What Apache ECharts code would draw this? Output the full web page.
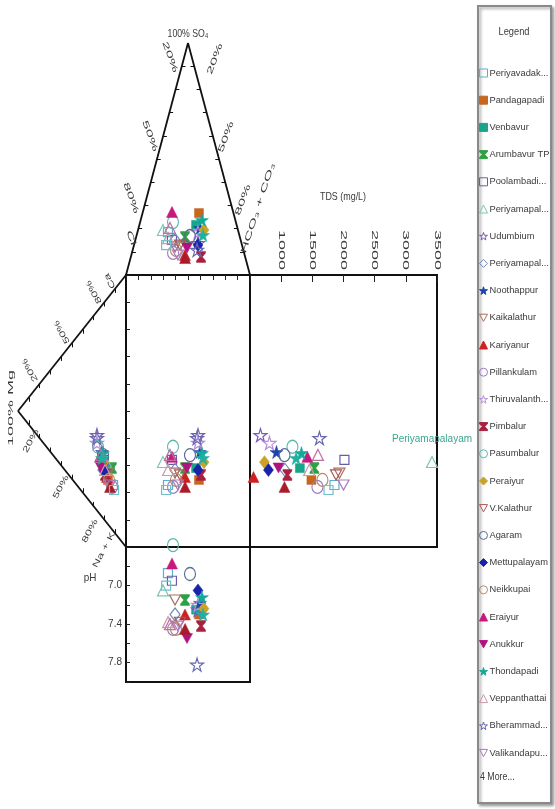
<!DOCTYPE html>
<html>
<head>
<meta charset="utf-8">
<script src="https://cdn.jsdelivr.net/npm/echarts@6/dist/echarts.min.js"></script>
<style>
  html, body { margin: 0; padding: 0; background: #fff; }
  #chart { width: 555px; height: 809px; }
</style>
</head>
<body>
<div id="chart"></div>
<script>
// ---- Sample sites ----
const sampleNames = ['Periyavadakarai', 'Pandagapadi', 'Venbavur', 'Arumbavur TP', 'Poolambadi', 'Periyamapalayam',
  'Udumbium', 'Periyammapalayam', 'Noothappur', 'Kaikalathur', 'Kariyanur', 'Pillankulam', 'Thiruvalanthurai',
  'Pimbalur', 'Pasumbalur', 'Peraiyur', 'V.Kalathur', 'Agaram', 'Mettupalayam', 'Neikkupai', 'Eraiyur', 'Anukkur',
  'Thondapadi', 'Veppanthattai', 'Bherammadevi', 'Valikandapuram', 'Site 27', 'Site 28', 'Site 29', 'Site 30'];
const legendLabels = ['Periyavadak...', 'Pandagapadi', 'Venbavur', 'Arumbavur TP', 'Poolambadi...', 'Periyamapal...',
  'Udumbium', 'Periyamapal...', 'Noothappur', 'Kaikalathur', 'Kariyanur', 'Pillankulam', 'Thiruvalanth...',
  'Pimbalur', 'Pasumbalur', 'Peraiyur', 'V.Kalathur', 'Agaram', 'Mettupalayam', 'Neikkupai', 'Eraiyur', 'Anukkur',
  'Thondapadi', 'Veppanthattai', 'Bherammad...', 'Valikandapu...'];

// ---- Anions (% meq) ----
const hco3 = [24.6, 45.5, 45.7, 39.4, 29.5, 20.1, 51.2, 32.0, 49.5, 33.5, 43.3, 33.2, 48.8, 56.6, 26.5, 53.2, 37.1, 43.2, 51.6, 34.9, 23.5, 43.4, 49.4, 26.0, 51.9, 37.6, 44.0, 25.9, 25.3, 53.5];
const so4  = [18.5, 26.7, 21.6, 16.4, 15.1, 19.4, 13.8, 15.1, 20.3, 12.1, 8.6, 9.5, 18.5, 7.8, 22.8, 19.4, 12.9, 16.8, 12.9, 10.8, 27.2, 11.6, 23.7, 15.9, 10.8, 8.6, 7.3, 12.9, 20.3, 17.2];
const cl   = [56.9, 27.8, 32.7, 44.2, 55.4, 60.5, 35.0, 52.9, 30.2, 54.4, 48.1, 57.3, 32.7, 35.6, 50.7, 27.4, 50.0, 40.0, 35.5, 54.3, 49.3, 45.0, 26.9, 58.1, 37.3, 53.8, 48.7, 61.2, 54.4, 29.3];

// ---- Cations (% meq) ----
const ca  = [16.8, 16.3, 21.6, 22.5, 21.8, 22.0, 27.7, 17.7, 23.8, 18.8, 16.9, 15.6, 24.8, 16.8, 23.9, 21.0, 16.8, 23.1, 18.1, 16.8, 21.1, 17.5, 23.9, 18.6, 26.6, 15.4, 14.7, 15.4, 22.3, 21.6];
const mg  = [12.0, 16.7, 14.8, 13.0, 20.4, 18.5, 26.9, 21.3, 22.2, 16.7, 17.6, 13.0, 26.9, 19.4, 25.9, 20.4, 19.4, 21.3, 20.4, 15.7, 24.1, 23.1, 21.3, 19.4, 26.9, 14.8, 14.8, 11.1, 23.1, 22.2];
const nak = [71.2, 67.0, 63.6, 64.5, 57.8, 59.5, 45.4, 61.0, 54.0, 64.5, 65.5, 71.4, 48.3, 63.8, 50.2, 58.6, 63.8, 55.6, 61.5, 67.5, 54.8, 59.4, 54.8, 62.0, 46.5, 69.8, 70.5, 73.5, 54.6, 56.2];

// ---- TDS (mg/L) and pH ----
const tds = [1855, 1485, 1300, 1533, 2015, 3420, 668, 1060, 925, 1935, 556, 1582, 812, 1100, 1181, 732, 1880, 1053, 796, 1662, 1420, 957, 1325, 1450, 1614, 2000, 1053, 1760, 1590, 1240];
const ph  = [6.87, 7.30, 7.25, 7.15, 6.95, 7.05, 7.25, 7.30, 7.18, 7.15, 7.30, 7.45, 7.20, 7.42, 6.58, 7.24, 7.38, 6.88, 7.05, 7.45, 6.77, 7.55, 7.12, 7.38, 7.82, 7.42, 7.45, 7.00, 7.40, 7.30];

// ---- Axis tick labels ----
const tdsTickLabels = [1000, 1500, 2000, 2500, 3000, 3500];
const phTickLabels = ['7.0', '7.4', '7.8'];
const triangleTickLabels = ['20%', '50%', '80%'];

// ---- Marker styles ----
const markerShape = ['sq', 'sq', 'sq', 'hour', 'sq', 'tri', 'star', 'dia', 'star', 'dtri', 'tri', 'circ', 'star',
  'hour', 'circ', 'dia', 'dtri', 'circ', 'dia', 'circ', 'tri', 'dtri', 'star', 'tri', 'star', 'dtri', 'tri', 'sq', 'tri', 'star'];
const markerFilled = [0, 1, 1, 1, 0, 0, 0, 0, 1, 0, 1, 0, 0, 1, 0, 1, 0, 0, 1, 0, 1, 1, 1, 0, 0, 0, 1, 0, 0, 1];
const markerColor = ['#5aaed6', '#c6661f', '#18a58a', '#2ea043', '#6b5cab', '#7cc6b4', '#7b5cb8', '#6f86b8', '#1e44aa',
  '#a8705e', '#cf2020', '#a07cc4', '#b78cdc', '#a8203f', '#5db8ac', '#cba226', '#aa5656', '#5a6b92', '#1a22aa', '#b48c6c',
  '#c8187c', '#b01282', '#14a898', '#c99aac', '#6768b0', '#a77cbc', '#a81c2a', '#70c0c8', '#c070a0', '#20b0a0'];

const FONT = '"Liberation Sans", Arial, sans-serif';
const INK = '#3a3a3a';
const STAR = 'path://M50,0 L61,35 L98,35 L68,57 L79,91 L50,70 L21,91 L32,57 L2,35 L39,35 Z';
const HOURGLASS = 'path://M0,0 L10,0 L10,1.5 L6.5,5 L10,8.5 L10,10 L0,10 L0,8.5 L3.5,5 L0,1.5 Z';
const DOWN_TRIANGLE = 'path://M0,0 L10,0 L5,9 Z';

function symbolOf(i) {
  switch (markerShape[i]) {
    case 'sq': return { symbol: 'rect', symbolSize: 9 };
    case 'tri': return { symbol: 'triangle', symbolSize: 11 };
    case 'dtri': return { symbol: DOWN_TRIANGLE, symbolSize: [11, 10] };
    case 'dia': return { symbol: 'diamond', symbolSize: [10, 13] };
    case 'circ': return { symbol: 'circle', symbolSize: [11, 13] };
    case 'star': return { symbol: STAR, symbolSize: 13 };
    default: return { symbol: HOURGLASS, symbolSize: [9, 11] };
  }
}
function styleOf(i) {
  const c = markerColor[i];
  return markerFilled[i]
    ? { color: c, borderColor: c, borderWidth: 0.5, opacity: 1 }
    : { color: 'rgba(255,255,255,0)', borderColor: c, borderWidth: 1.2, opacity: 1 };
}

// Diagram coordinates derived from the ion balance
const anionSum = i => hco3[i] + so4[i] + cl[i];
const cationSum = i => ca[i] + mg[i] + nak[i];
const anionX = i => (hco3[i] + so4[i] / 2) / anionSum(i) * 100;  // 0 = Cl, 100 = HCO3
const so4Pct = i => so4[i] / anionSum(i) * 100;
const cationY = i => (nak[i] + mg[i] / 2) / cationSum(i) * 100;  // 0 = Ca, 100 = Na+K
const mgPct = i => mg[i] / cationSum(i) * 100;

const panelPoint = [
  i => [anionX(i), so4Pct(i)],   // anion triangle
  i => [mgPct(i), cationY(i)],   // cation triangle
  i => [anionX(i), cationY(i)],  // central field
  i => [tds[i], cationY(i)],     // TDS field
  i => [anionX(i), ph[i]]        // pH field
];

const grids = [
  { left: 126, top: 43, width: 124, height: 232 },
  { left: 18, top: 275, width: 108, height: 272 },
  { left: 126, top: 275, width: 124, height: 272, show: true, borderColor: '#111', borderWidth: 2, backgroundColor: 'transparent' },
  { left: 250, top: 275, width: 187, height: 272, show: true, borderColor: '#111', borderWidth: 2, backgroundColor: 'transparent' },
  { left: 126, top: 547, width: 124, height: 135, show: true, borderColor: '#111', borderWidth: 2, backgroundColor: 'transparent' }
];

const hidden = (g, extra) => Object.assign({ gridIndex: g, type: 'value', min: 0, max: 100, show: false }, extra || {});
const tickOnly = (len) => ({
  axisLine: { show: false },
  axisTick: { show: true, inside: true, length: len, lineStyle: { color: '#222', width: 1 } },
  axisLabel: { show: false },
  splitLine: { show: false }
});

const xAxes = [
  hidden(0),
  hidden(1, { inverse: true }),
  Object.assign({ gridIndex: 2, type: 'value', min: 0, max: 100, interval: 10, position: 'top' }, tickOnly(5)),
  Object.assign({ gridIndex: 3, type: 'value', min: 500, max: 3500, interval: 500, position: 'top' }, tickOnly(7)),
  hidden(4)
];
const yAxes = [
  hidden(0),
  hidden(1, { inverse: true }),
  Object.assign({ gridIndex: 2, type: 'value', min: 0, max: 100, interval: 10, inverse: true }, tickOnly(4)),
  hidden(3, { inverse: true }),
  Object.assign({ gridIndex: 4, type: 'value', min: 6.6, max: 8.0, interval: 0.2, inverse: true }, tickOnly(4), {
    axisLabel: {
      show: true, margin: 4, fontSize: 10, color: INK, fontFamily: FONT,
      formatter: v => { const s = (Math.round(v * 10) / 10).toFixed(1); return phTickLabels.includes(s) ? s : ''; }
    }
  })
];

// Triangle outlines and their 10 % ticks
const frame = (idx, segs, width) => ({
  type: 'lines', coordinateSystem: 'cartesian2d', xAxisIndex: idx, yAxisIndex: idx,
  polyline: false, silent: true, z: 1, animation: false,
  lineStyle: { color: '#111', width: width, opacity: 1, curveness: 0 },
  data: segs.map(s => ({ coords: s }))
});
const topEdges = [[[0, 0], [50, 100]], [[50, 100], [100, 0]]];
const leftEdges = [[[0, 0], [100, 50]], [[100, 50], [0, 100]]];
const topTicks = [], leftTicks = [];
for (let k = 1; k <= 9; k++) {
  const s = k * 10;
  topTicks.push([[s / 2, s], [s / 2 + 3, s]]);
  topTicks.push([[100 - s / 2, s], [97 - s / 2, s]]);
  leftTicks.push([[s, s / 2], [s, s / 2 + 1.6]]);
  leftTicks.push([[s, 100 - s / 2], [s, 98.4 - s / 2]]);
}

const series = [
  frame(0, topEdges, 1.8), frame(0, topTicks, 1),
  frame(1, leftEdges, 1.8), frame(1, leftTicks, 1)
];

sampleNames.forEach((name, i) => {
  const sym = symbolOf(i);
  panelPoint.forEach((fn, p) => {
    const s = Object.assign({
      type: 'scatter', name: name, xAxisIndex: p, yAxisIndex: p, clip: false, z: 3,
      animation: false, itemStyle: styleOf(i), emphasis: { disabled: true },
      data: [fn(i)]
    }, sym);
    if (p === 3 && name === 'Periyamapalayam') {
      s.label = { show: true, position: 'top', distance: 12, formatter: '{a}', color: '#3aa58e', fontSize: 10, fontFamily: FONT };
    }
    series.push(s);
  });
});

const chart = echarts.init(document.getElementById('chart'));
chart.setOption({
  animation: false,
  backgroundColor: '#fff',
  grid: grids,
  xAxis: xAxes,
  yAxis: yAxes,
  legend: {
    data: legendLabels.map((_, i) => sampleNames[i]),
    orient: 'vertical', left: 479, top: 67, padding: 0,
    itemWidth: 8, itemHeight: 8, itemGap: 15.2,
    selectedMode: false,
    itemStyle: { borderWidth: 1 },
    formatter: n => legendLabels[sampleNames.indexOf(n)],
    textStyle: { fontSize: 9.3, lineHeight: 12, color: INK, fontFamily: FONT, padding: [0, 0, 0, -3] }
  },
  series: series
});

// Text annotations
const deg = d => d * Math.PI / 180;
function label(text, x, y, rot, size, sx, sy, align) {
  return {
    type: 'text', x: x, y: y, rotation: deg(rot || 0), scaleX: sx || 1, scaleY: sy || 1, silent: true, z: 5,
    style: { text: text, fill: INK, font: (size || 10) + 'px ' + FONT, align: align || 'center', verticalAlign: 'middle' }
  };
}

const graphics = [
  // legend frame
  { type: 'rect', shape: { x: 478, y: 6, width: 73, height: 797 }, z: -1, silent: true,
    style: { fill: '#fff', stroke: '#8a8a8a', lineWidth: 2, shadowBlur: 3, shadowOffsetX: 2, shadowOffsetY: 2, shadowColor: 'rgba(0,0,0,0.35)' } },
  label('Legend', 514, 32, 0, 10.5, 0.88, 1.05),
  label('4 More...', 480, 777, 0, 10, 0.88, 1.05, 'left'),

  // anion triangle
  label('100% SO\u2084', 188, 34, 0, 10.5, 0.83, 1.05),
  label(triangleTickLabels[0], 170, 57, -70, 9, 1.8, 0.9),
  label(triangleTickLabels[1], 150, 136, -70, 9, 1.8, 0.9),
  label(triangleTickLabels[2], 131, 198, -70, 9, 1.8, 0.9),
  label('Cl', 131, 238, -70, 9, 1.8, 0.9),
  label(triangleTickLabels[0], 215, 59, 70, 9, 1.8, 0.9),
  label(triangleTickLabels[1], 226, 137, 70, 9, 1.8, 0.9),
  label(triangleTickLabels[2], 243, 200, 70, 9, 1.8, 0.9),
  label('HCO\u2083 + CO\u2083', 258, 208, 72, 9, 1.85, 0.9),

  // cation triangle
  label('100% Mg', 11, 408, 90, 9, 2.0, 0.9),
  label('Ca', 110, 281, 118, 9, 1.4, 0.9),
  label(triangleTickLabels[2], 94, 292, 118, 9, 1.4, 0.9),
  label(triangleTickLabels[1], 62, 332, 118, 9, 1.4, 0.9),
  label(triangleTickLabels[0], 30, 370, 118, 9, 1.4, 0.9),
  label(triangleTickLabels[0], 31, 441, 62, 9, 1.4, 0.9),
  label(triangleTickLabels[1], 61, 487, 62, 9, 1.4, 0.9),
  label(triangleTickLabels[2], 90, 531, 62, 9, 1.4, 0.9),
  label('Na + K', 104, 550, 62, 9, 1.4, 0.9),

  // TDS and pH titles
  label('TDS (mg/L)', 343, 197, 0, 10.5, 0.85, 1.05),
  label('pH', 90, 578, 0, 11, 0.9, 1.05)
];

// TDS tick labels, placed through the TDS axis scale
tdsTickLabels.forEach(v => {
  const px = chart.convertToPixel({ xAxisIndex: 3, yAxisIndex: 3 }, [v, 0]);
  graphics.push(label(String(v), px[0], 250, -90, 9, 2.0, 0.95));
});

chart.setOption({ graphic: graphics });
</script>
</body>
</html>
